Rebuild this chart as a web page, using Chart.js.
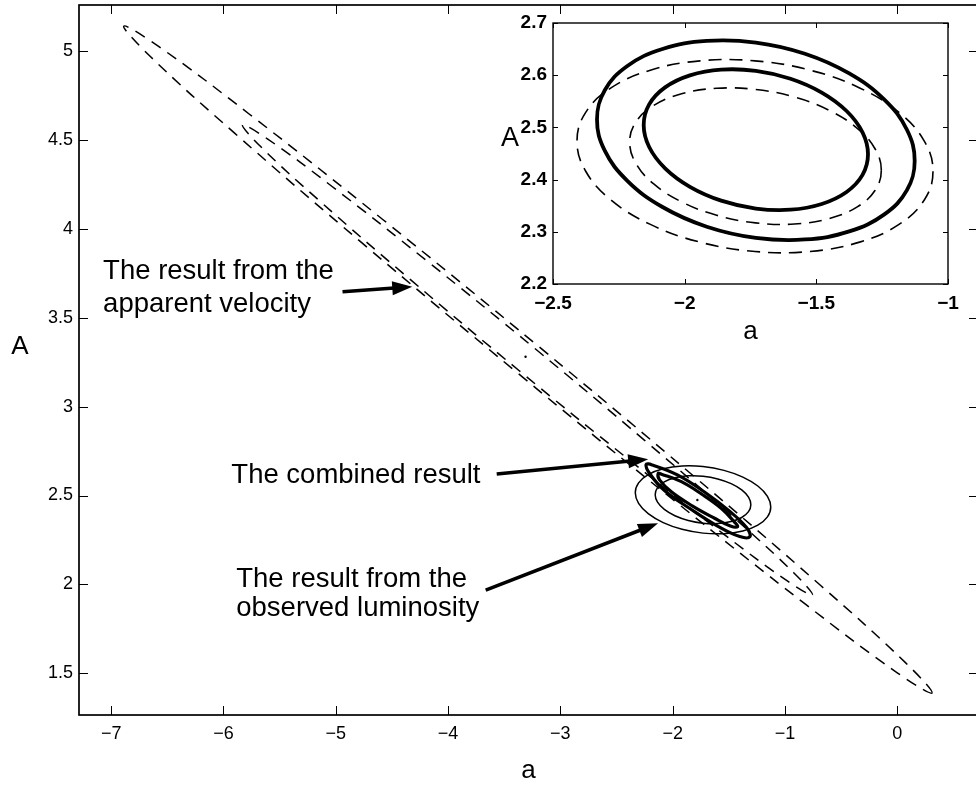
<!DOCTYPE html>
<html><head><meta charset="utf-8">
<script src="https://cdn.jsdelivr.net/npm/chart.js@4.4.1/dist/chart.umd.min.js"></script>
<style>
html,body{margin:0;padding:0;background:#fff;}
#wrap{position:relative;width:976px;height:792px;overflow:hidden;background:#fff;}
#wrap canvas{position:absolute;left:0;top:0;}
</style></head><body>
<div id="wrap">
<canvas id="mainChart" width="982" height="792" style="width:982px;height:792px"></canvas>
<canvas id="insetChart" width="976" height="792" style="width:976px;height:792px"></canvas>
</div>
<script>
// ---------- tick values / labels ----------
const xTicksMain = [-7, -6, -5, -4, -3, -2, -1, 0];
const xTickLabelsMain = ['\u22127', '\u22126', '\u22125', '\u22124', '\u22123', '\u22122', '\u22121', '0'];
const yTicksMain = [1.5, 2, 2.5, 3, 3.5, 4, 4.5, 5];
const yTickLabelsMain = ['1.5', '2', '2.5', '3', '3.5', '4', '4.5', '5'];
const xTicksInset = [-2.5, -2, -1.5, -1];
const xTickLabelsInset = ['\u22122.5', '\u22122', '\u22121.5', '\u22121'];
const yTicksInset = [2.2, 2.3, 2.4, 2.5, 2.6, 2.7];
const yTickLabelsInset = ['2.2', '2.3', '2.4', '2.5', '2.6', '2.7'];
const axisRangeMain = { xmin: -7.2866, xmax: 0.719, ymin: 1.2655, ymax: 5.2587 };
const axisRangeInset = { xmin: -2.5, xmax: -1, ymin: 2.2, ymax: 2.7 };
const xLabel = 'a';
const yLabel = 'A';

// ---------- apparent velocity contours (dashed) ----------
const velOuter_a = [0.310, 0.073, -0.677, -1.822, -3.193, -4.579, -5.766, -6.578, -6.888, -6.651, -5.901, -4.756, -3.385, -1.999, -0.812, -0.000];
const velOuter_A = [1.389, 1.560, 1.991, 2.614, 3.338, 4.051, 4.643, 5.026, 5.140, 4.969, 4.538, 3.915, 3.191, 2.478, 1.886, 1.503];
const velInner_a = [-0.754, -0.918, -1.444, -2.250, -3.216, -4.194, -5.033, -5.609, -5.831, -5.667, -5.141, -4.335, -3.369, -2.391, -1.552, -0.976];
const velInner_A = [1.940, 2.063, 2.369, 2.810, 3.321, 3.822, 4.238, 4.506, 4.584, 4.461, 4.155, 3.714, 3.203, 2.702, 2.286, 2.018];

// ---------- observed luminosity contours (thin solid in main, thick in inset) ----------
const lumOuter_a = [-1.1265, -1.1560, -1.2417, -1.3751, -1.5433, -1.7297, -1.9161, -2.0843, -2.2177, -2.3034, -2.3329, -2.3034, -2.2177, -2.0843, -1.9161, -1.7297, -1.5433, -1.3751, -1.2417, -1.1560];
const lumOuter_A = [2.4357, 2.3798, 2.3333, 2.3007, 2.2853, 2.2884, 2.3098, 2.3475, 2.3977, 2.4555, 2.5153, 2.5712, 2.6177, 2.6503, 2.6657, 2.6626, 2.6412, 2.6035, 2.5533, 2.4955];
const lumInner_a = [-1.3038, -1.3246, -1.3851, -1.4794, -1.5981, -1.7297, -1.8613, -1.9800, -2.0743, -2.1348, -2.1556, -2.1348, -2.0743, -1.9800, -1.8613, -1.7297, -1.5981, -1.4794, -1.3851, -1.3246];
const lumInner_A = [2.4485, 2.4090, 2.3763, 2.3533, 2.3423, 2.3446, 2.3597, 2.3862, 2.4216, 2.4624, 2.5045, 2.5440, 2.5767, 2.5997, 2.6107, 2.6084, 2.5933, 2.5668, 2.5314, 2.4906];

// ---------- combined result contours (thick solid) ----------
const combOuter_a = [-1.313, -1.402, -1.592, -1.831, -2.073, -2.202, -2.237, -2.183, -1.958, -1.720, -1.496, -1.342];
const combOuter_A = [2.268, 2.269, 2.325, 2.420, 2.528, 2.621, 2.674, 2.672, 2.616, 2.521, 2.413, 2.320];
const combInner_a = [-1.421, -1.486, -1.627, -1.826, -2.012, -2.117, -2.129, -2.100, -1.922, -1.740, -1.568, -1.451];
const combInner_A = [2.325, 2.328, 2.372, 2.442, 2.521, 2.588, 2.624, 2.620, 2.578, 2.507, 2.428, 2.352];

// ---------- inset dashed contours ----------
const insetDashOuter_a = [-1.0570, -1.0900, -1.1861, -1.3356, -1.5240, -1.7329, -1.9418, -2.1302, -2.2797, -2.3758, -2.4088, -2.3758, -2.2797, -2.1302, -1.9418, -1.7329, -1.5240, -1.3356, -1.1861, -1.0900];
const insetDashOuter_A = [2.4160, 2.3610, 2.3142, 2.2802, 2.2623, 2.2623, 2.2802, 2.3142, 2.3610, 2.4160, 2.4738, 2.5288, 2.5756, 2.6096, 2.6275, 2.6275, 2.6096, 2.5756, 2.5288, 2.4738];
const insetDashInner_a = [-1.2532, -1.2766, -1.3445, -1.4501, -1.5834, -1.7310, -1.8786, -2.0119, -2.1175, -2.1854, -2.2088, -2.1854, -2.1175, -2.0119, -1.8786, -1.7310, -1.5834, -1.4501, -1.3445, -1.2766];
const insetDashInner_A = [2.4177, 2.3795, 2.3478, 2.3255, 2.3149, 2.3171, 2.3317, 2.3574, 2.3917, 2.4312, 2.4721, 2.5103, 2.5420, 2.5643, 2.5749, 2.5727, 2.5581, 2.5324, 2.4981, 2.4586];

// ---------- best-fit points ----------
const centre_a = [-3.31, -1.78];
const centre_A = [3.28, 2.475];

// ---------- annotations ----------
const annoText = ['The result from the', 'apparent velocity', 'The combined result', 'The result from the', 'observed luminosity'];
const annoLeft_a = [-7.072, -7.072, -5.930, -5.886, -5.886];
const annoBase_A = [3.716, 3.534, 2.569, 1.987, 1.822];
const arrowFrom_a = [-4.940, -3.567, -3.665];
const arrowFrom_A = [3.646, 2.621, 1.968];
const arrowTo_a = [-4.319, -2.218, -2.130];
const arrowTo_A = [3.674, 2.704, 2.344];

// ---------------------------------------------------------------
const FONT = "'Liberation Sans', Arial, Helvetica, sans-serif";
Chart.defaults.font.family = FONT;
Chart.defaults.color = '#000';

function pts(a, A) { return a.map((v, i) => ({ x: v, y: A[i] })); }

function curve(a, A, width, dash) {
  return {
    data: pts(a, A), closed: true, borderColor: '#000', borderWidth: width,
    borderDash: dash || [], pointRadius: 0, pointHoverRadius: 0, pointHitRadius: 0,
    tension: 0.4, fill: false, showLine: true
  };
}

const loopPlugin = {
  id: 'closedLoop',
  afterDatasetUpdate(chart, args) {
    const ds = chart.data.datasets[args.index];
    const el = args.meta.dataset;
    if (ds && ds.closed && el) { el._loop = true; el._fullLoop = true; }
  }
};

function framePlugin(tickLen, boxWidth) {
  return {
    id: 'frame',
    afterDatasetsDraw(chart) {
      const { ctx, chartArea: ca, scales: { x, y } } = chart;
      ctx.save();
      ctx.strokeStyle = '#000';
      ctx.lineWidth = 1;
      ctx.beginPath();
      x.ticks.forEach(t => {
        const p = Math.round(x.getPixelForValue(t.value)) + 0.5;
        ctx.moveTo(p, ca.bottom); ctx.lineTo(p, ca.bottom - tickLen);
        ctx.moveTo(p, ca.top); ctx.lineTo(p, ca.top + tickLen);
      });
      y.ticks.forEach(t => {
        const p = Math.round(y.getPixelForValue(t.value)) + 0.5;
        ctx.moveTo(ca.left, p); ctx.lineTo(ca.left + tickLen, p);
        ctx.moveTo(ca.right, p); ctx.lineTo(ca.right - tickLen, p);
      });
      ctx.stroke();
      ctx.lineWidth = boxWidth;
      ctx.strokeRect(ca.left, ca.top, ca.right - ca.left, ca.bottom - ca.top);
      ctx.restore();
    }
  };
}

function yLabelPlugin(offsetX, offsetY, size) {
  return {
    id: 'ylabel',
    afterDraw(chart) {
      const { ctx, chartArea: ca } = chart;
      ctx.save();
      ctx.fillStyle = '#000';
      ctx.font = size + 'px ' + FONT;
      ctx.textAlign = 'center';
      ctx.textBaseline = 'middle';
      ctx.fillText(yLabel, ca.left - offsetX, (ca.top + ca.bottom) / 2 - offsetY);
      ctx.restore();
    }
  };
}

const annotationPlugin = {
  id: 'annotations',
  afterDraw(chart) {
    const { ctx, scales: { x, y } } = chart;
    ctx.save();
    ctx.fillStyle = '#000';
    ctx.strokeStyle = '#000';
    ctx.font = '27.5px ' + FONT;
    ctx.textAlign = 'left';
    ctx.textBaseline = 'alphabetic';
    annoText.forEach((t, i) => {
      ctx.fillText(t, x.getPixelForValue(annoLeft_a[i]), y.getPixelForValue(annoBase_A[i]));
    });
    const headLen = 20, headHalf = 7;
    arrowFrom_a.forEach((v, i) => {
      const x0 = x.getPixelForValue(v), y0 = y.getPixelForValue(arrowFrom_A[i]);
      const x1 = x.getPixelForValue(arrowTo_a[i]), y1 = y.getPixelForValue(arrowTo_A[i]);
      const dx = x1 - x0, dy = y1 - y0, L = Math.hypot(dx, dy);
      const ux = dx / L, uy = dy / L;
      const bx = x1 - ux * headLen, by = y1 - uy * headLen;
      ctx.lineWidth = 3.5;
      ctx.beginPath(); ctx.moveTo(x0, y0); ctx.lineTo(bx + ux * 2, by + uy * 2); ctx.stroke();
      ctx.beginPath();
      ctx.moveTo(x1, y1);
      ctx.lineTo(bx - uy * headHalf, by + ux * headHalf);
      ctx.lineTo(bx + uy * headHalf, by - ux * headHalf);
      ctx.closePath(); ctx.fill();
    });
    ctx.restore();
  }
};

const insetBgPlugin = {
  id: 'insetBg',
  beforeDatasetsDraw(chart) {
    const { ctx, chartArea: ca } = chart;
    ctx.save(); ctx.fillStyle = '#fff';
    ctx.fillRect(ca.left, ca.top, ca.right - ca.left, ca.bottom - ca.top);
    ctx.restore();
  }
};

function zeroPad(s) { s.paddingTop = 0; s.paddingBottom = 0; s.paddingLeft = 0; s.paddingRight = 0; }

function scaleX(range, ticks, labels, height, fontSize, bold, pad, titlePad, titleSize) {
  return {
    type: 'linear', position: 'bottom', min: range.xmin, max: range.xmax, bounds: 'data',
    grid: { display: false, drawTicks: false }, border: { display: false },
    afterBuildTicks: s => { s.ticks = ticks.map(v => ({ value: v })); },
    afterFit: s => { s.height = height; zeroPad(s); },
    ticks: { autoSkip: false, maxRotation: 0, minRotation: 0, padding: pad, color: '#000',
      font: { size: fontSize, weight: bold ? 'bold' : 'normal' }, callback: (v, i) => labels[i] },
    title: { display: true, text: xLabel, color: '#000', font: { size: titleSize }, padding: { top: 0, bottom: titlePad } }
  };
}
function scaleY(range, ticks, labels, width, fontSize, bold, pad) {
  return {
    type: 'linear', position: 'left', min: range.ymin, max: range.ymax, bounds: 'data',
    grid: { display: false, drawTicks: false }, border: { display: false },
    afterBuildTicks: s => { s.ticks = ticks.map(v => ({ value: v })); },
    afterFit: s => { s.width = width; zeroPad(s); },
    ticks: { autoSkip: false, padding: pad, color: '#000',
      font: { size: fontSize, weight: bold ? 'bold' : 'normal' }, callback: (v, i) => labels[i] }
  };
}

const commonOpts = {
  responsive: false, animation: false, devicePixelRatio: 1, events: [],
  plugins: { legend: { display: false }, tooltip: { enabled: false } }
};

new Chart(document.getElementById('mainChart'), {
  type: 'line',
  data: {
    datasets: [
      curve(velOuter_a, velOuter_A, 1.5, [11, 8]),
      curve(velInner_a, velInner_A, 1.5, [11, 8]),
      curve(lumOuter_a, lumOuter_A, 1.5),
      curve(lumInner_a, lumInner_A, 1.5),
      curve(combOuter_a, combOuter_A, 3.2),
      curve(combInner_a, combInner_A, 3.2),
      { data: pts(centre_a, centre_A), showLine: false, pointRadius: 1.2, pointBackgroundColor: '#000', pointBorderWidth: 0 }
    ]
  },
  options: Object.assign({}, commonOpts, {
    layout: { padding: { left: 0, right: 1, top: 5, bottom: 0 } },
    scales: {
      x: scaleX(axisRangeMain, xTicksMain, xTickLabelsMain, 77, 18, false, 8, 6, 26),
      y: scaleY(axisRangeMain, yTicksMain, yTickLabelsMain, 79, 18, false, 6)
    }
  }),
  plugins: [loopPlugin, framePlugin(9, 1.7), yLabelPlugin(59, 13, 26), annotationPlugin]
});

new Chart(document.getElementById('insetChart'), {
  type: 'line',
  data: {
    datasets: [
      curve(insetDashOuter_a, insetDashOuter_A, 1.6, [13, 8]),
      curve(insetDashInner_a, insetDashInner_A, 1.6, [13, 8]),
      curve(lumOuter_a, lumOuter_A, 3.8),
      curve(lumInner_a, lumInner_A, 3.8)
    ]
  },
  options: Object.assign({}, commonOpts, {
    layout: { padding: { left: 0, right: 28, top: 23, bottom: 442 } },
    scales: {
      x: scaleX(axisRangeInset, xTicksInset, xTickLabelsInset, 66, 19, true, 8, 2.4, 26),
      y: scaleY(axisRangeInset, yTicksInset, yTickLabelsInset, 553, 19, true, 6)
    }
  }),
  plugins: [loopPlugin, insetBgPlugin, framePlugin(5, 1.4), yLabelPlugin(43, 15, 27)]
});
</script>
</body></html>
